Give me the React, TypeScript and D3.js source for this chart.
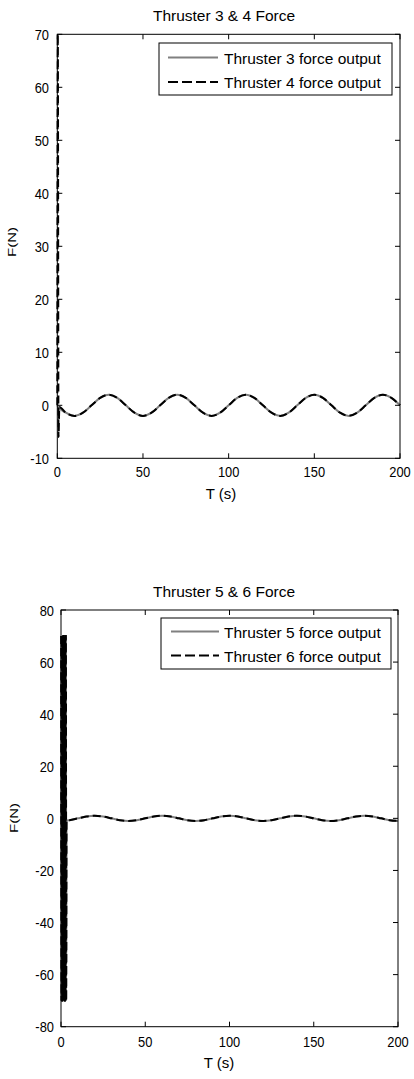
import React from 'react';
import * as d3 from 'd3';

// ---------- data ----------
const xTicks = [0, 50, 100, 150, 200];
const yTicksTop = [-10, 0, 10, 20, 30, 40, 50, 60, 70];
const yTicksBottom = [-80, -60, -40, -20, 0, 20, 40, 60, 80];

// sampled every 5 s from 5 to 200
const waveTime = [
  5, 10, 15, 20, 25, 30, 35, 40, 45, 50, 55, 60, 65, 70, 75, 80, 85, 90, 95, 100,
  105, 110, 115, 120, 125, 130, 135, 140, 145, 150, 155, 160, 165, 170, 175, 180, 185, 190, 195, 200,
];

// Thruster 3 & 4 (oscillation, amplitude ~2 N, period ~40 s)
const thr34Wave = [
  -1.4, -2, -1.4, 0, 1.4, 2, 1.4, 0,
  -1.4, -2, -1.4, 0, 1.4, 2, 1.4, 0,
  -1.4, -2, -1.4, 0, 1.4, 2, 1.4, 0,
  -1.4, -2, -1.4, 0, 1.4, 2, 1.4, 0,
  -1.4, -2, -1.4, 0, 1.4, 2, 1.4, 0,
];
const thr3StartTime = [0, 0.5];
const thr3StartValues = [0, -0.3];
const thr4StartTime = [0, 0.3, 0.7, 1.2];
const thr4StartValues = [0, 70, -6, -0.3];

// Thruster 5 & 6 (oscillation, amplitude ~1 N, period ~40 s)
const thr56Wave = [
  -0.7, 0, 0.7, 1, 0.7, 0, -0.7, -1,
  -0.7, 0, 0.7, 1, 0.7, 0, -0.7, -1,
  -0.7, 0, 0.7, 1, 0.7, 0, -0.7, -1,
  -0.7, 0, 0.7, 1, 0.7, 0, -0.7, -1,
  -0.7, 0, 0.7, 1, 0.7, 0, -0.7, -1,
];
// rapid bang-bang switching during the first ~3 s
const thr56StartTime = [0.1, 0.3, 0.5, 0.7, 0.9, 1.1, 1.3, 1.5, 1.7, 1.9, 2.1, 2.3, 2.5, 2.7, 2.9, 3.1, 3.3];
const thr5StartValues = [70, -70, 70, -70, 70, -70, 70, -70, 70, -70, 70, -70, 70, -70, 70, -55, -0.8];
const thr6StartValues = [70, -70, 70, -70, 70, -70, 70, -70, 70, -70, 70, -70, 70, -70, 70, -70, -0.8];

const legendTop = ['Thruster 3 force output', 'Thruster 4 force output'];
const legendBottom = ['Thruster 5 force output', 'Thruster 6 force output'];

// ---------- drawing ----------
const FONT = "'Liberation Sans', Arial, Helvetica, sans-serif";
const GRAY = '#808080';

type Pt = [number, number];

function build(time: number[], vals: number[]): Pt[] {
  return time.map((t, i) => [t, vals[i]] as Pt);
}

function Num(props: { x: number; y: number; anchor: string; children: React.ReactNode }) {
  return (
    <text transform={`translate(${props.x},${props.y}) scale(0.86,1)`} textAnchor={props.anchor}
      fontFamily={FONT} fontSize={15} fill="#000">{props.children}</text>
  );
}

interface PanelProps {
  left: number; right: number; top: number; bottom: number;
  yDomain: [number, number]; yTicks: number[];
  title: string; titleX: number; titleY: number;
  xLabelX: number; xLabelY: number; xTickY: number;
  yLabelX: number; yLabelY: number; yTickX: number;
  grayData: Pt[]; blackData: Pt[];
  legend: string[];
  lg: { x0: number; x1: number; y0: number; y1: number; lineX0: number; lineX1: number; textX: number; row1: number; row2: number };
}

function Panel(p: PanelProps) {
  const x = d3.scaleLinear().domain([0, 200]).range([p.left, p.right]);
  const y = d3.scaleLinear().domain(p.yDomain).range([p.bottom, p.top]);
  const line = d3.line<Pt>().x(d => x(d[0])).y(d => y(d[1])).curve(d3.curveMonotoneX);
  const tk = 5;
  return (
    <g>
      <text x={p.titleX} y={p.titleY} textAnchor="middle" fontFamily={FONT} fontSize={15.5} fill="#000">{p.title}</text>
      <rect x={p.left} y={p.top} width={p.right - p.left} height={p.bottom - p.top} fill="#fff" stroke="none" />
      <path d={line(p.grayData) || ''} fill="none" stroke={GRAY} strokeWidth={2} />
      <path d={line(p.blackData) || ''} fill="none" stroke="#000" strokeWidth={2} strokeDasharray="8,4" />
      <rect x={p.left} y={p.top} width={p.right - p.left} height={p.bottom - p.top} fill="none" stroke="#000" strokeWidth={1} />
      {xTicks.map(v => (
        <g key={'x' + v}>
          <line x1={x(v)} x2={x(v)} y1={p.bottom} y2={p.bottom - tk} stroke="#000" />
          <line x1={x(v)} x2={x(v)} y1={p.top} y2={p.top + tk} stroke="#000" />
          <Num x={x(v)} y={p.xTickY} anchor="middle">{v}</Num>
        </g>
      ))}
      {p.yTicks.map(v => (
        <g key={'y' + v}>
          <line x1={p.left} x2={p.left + tk} y1={y(v)} y2={y(v)} stroke="#000" />
          <line x1={p.right} x2={p.right - tk} y1={y(v)} y2={y(v)} stroke="#000" />
          <Num x={p.yTickX} y={y(v) + 5.5} anchor="end">{v}</Num>
        </g>
      ))}
      <text x={p.xLabelX} y={p.xLabelY} textAnchor="middle" fontFamily={FONT} fontSize={15} fill="#000">T (s)</text>
      <text transform={`translate(${p.yLabelX},${p.yLabelY}) scale(0.75,1) rotate(-90)`} textAnchor="middle" fontFamily={FONT} fontSize={15} fill="#000">F(N)</text>
      <rect x={p.lg.x0} y={p.lg.y0} width={p.lg.x1 - p.lg.x0} height={p.lg.y1 - p.lg.y0} fill="#fff" stroke="#000" strokeWidth={1} />
      <line x1={p.lg.lineX0} x2={p.lg.lineX1} y1={p.lg.row1} y2={p.lg.row1} stroke={GRAY} strokeWidth={2} />
      <line x1={p.lg.lineX0} x2={p.lg.lineX1} y1={p.lg.row2} y2={p.lg.row2} stroke="#000" strokeWidth={2} strokeDasharray="10,4" />
      <text x={p.lg.textX} y={p.lg.row1 + 6} fontFamily={FONT} fontSize={15.5} fill="#000">{p.legend[0]}</text>
      <text x={p.lg.textX} y={p.lg.row2 + 6} fontFamily={FONT} fontSize={15.5} fill="#000">{p.legend[1]}</text>
    </g>
  );
}

export default function App() {
  const gray34 = build(thr3StartTime, thr3StartValues).concat(build(waveTime, thr34Wave));
  const black34 = build(thr4StartTime, thr4StartValues).concat(build(waveTime, thr34Wave));
  const gray56 = build(thr56StartTime, thr5StartValues).concat(build(waveTime, thr56Wave));
  const black56 = build(thr56StartTime, thr6StartValues).concat(build(waveTime, thr56Wave));
  return (
    <svg width={414} height={1079} style={{ position: 'absolute', left: 0, top: 0, background: '#fff' }}>
      <rect x={0} y={0} width={414} height={1079} fill="#fff" />
      <Panel
        left={57.3} right={400} top={34.3} bottom={458.3}
        yDomain={[-10, 70]} yTicks={yTicksTop}
        title="Thruster 3 & 4 Force" titleX={224} titleY={20.5}
        xLabelX={221} xLabelY={499} xTickY={477}
        yLabelX={16} yLabelY={242} yTickX={49}
        grayData={gray34} blackData={black34}
        legend={legendTop}
        lg={{ x0: 159, x1: 392, y0: 43, y1: 95, lineX0: 168, lineX1: 218, textX: 224, row1: 57.5, row2: 82 }}
      />
      <Panel
        left={61} right={398} top={610} bottom={1026.7}
        yDomain={[-80, 80]} yTicks={yTicksBottom}
        title="Thruster 5 & 6 Force" titleX={224} titleY={597}
        xLabelX={219} xLabelY={1068} xTickY={1047}
        yLabelX={18} yLabelY={818} yTickX={54}
        grayData={gray56} blackData={black56}
        legend={legendBottom}
        lg={{ x0: 161, x1: 391, y0: 618, y1: 669, lineX0: 171, lineX1: 219, textX: 224, row1: 631.5, row2: 655.5 }}
      />
    </svg>
  );
}
